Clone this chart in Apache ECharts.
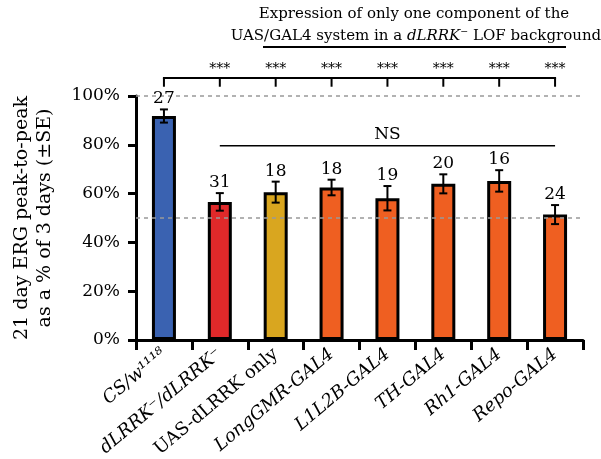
<!DOCTYPE html>
<html>
<head>
<meta charset="utf-8">
<script src="https://cdn.jsdelivr.net/npm/echarts@6/dist/echarts.min.js"></script>
<style>
  html, body { margin: 0; padding: 0; background: #fff; }
  #chart { width: 601px; height: 459px; }
</style>
</head>
<body>
<div id="chart"></div>
<script>
// Genotypes along the x axis
var categories = ['CS/w¹¹¹⁸', 'dLRRK⁻/dLRRK⁻', 'UAS-dLRRK only', 'LongGMR-GAL4', 'L1L2B-GAL4', 'TH-GAL4', 'Rh1-GAL4', 'Repo-GAL4'];
// 21-day ERG peak-to-peak as % of 3-day value
var means = [91.8, 56.6, 60.6, 62.5, 58.1, 64.0, 65.2, 51.4];
// standard error
var errors = [2.7, 3.6, 4.3, 3.2, 5.0, 3.9, 4.4, 3.9];
// number of flies per genotype
var counts = [27, 31, 18, 18, 19, 20, 16, 24];
var barColors = ['#3a62b1', '#e0292a', '#d9a61f', '#ef5f21', '#ef5f21', '#ef5f21', '#ef5f21', '#ef5f21'];
var yTicks = [0, 20, 40, 60, 80, 100];
var refLines = [100, 50];

var FONT = 'DejaVu Serif';

var chart = echarts.init(document.getElementById('chart'), null, { renderer: 'canvas' });

var barData = means.map(function (v, i) {
  return { value: v, itemStyle: { color: barColors[i] } };
});
var errData = means.map(function (v, i) { return [i, v, errors[i], counts[i]]; });

function renderError(params, api) {
  var x = api.value(0), m = api.value(1), e = api.value(2);
  var top = api.coord([x, m + e]);
  var bot = api.coord([x, m - e]);
  var half = 4;
  var st = { stroke: '#000', lineWidth: 2 };
  return {
    type: 'group',
    children: [
      { type: 'line', shape: { x1: top[0], y1: top[1], x2: bot[0], y2: bot[1] }, style: st },
      { type: 'line', shape: { x1: top[0] - half, y1: top[1], x2: top[0] + half, y2: top[1] }, style: st },
      { type: 'line', shape: { x1: bot[0] - half, y1: bot[1], x2: bot[0] + half, y2: bot[1] }, style: st },
      { type: 'text', x: top[0], y: top[1] - 2,
        style: { text: String(api.value(3)), font: '17px "' + FONT + '"', fill: '#000', align: 'center', verticalAlign: 'bottom' } }
    ]
  };
}

// significance bracket against the control plus the NS bar over the test group
var sigLevel = 107.4, sigDrop = 103.8, nsLevel = 79.6;
function renderBrackets(params, api) {
  var st = { stroke: '#000', lineWidth: 2 };
  var kids = [];
  var a = api.coord([0, sigLevel]), b = api.coord([categories.length - 1, sigLevel]);
  kids.push({ type: 'line', shape: { x1: a[0] - 1, y1: a[1], x2: b[0] + 1, y2: b[1] }, style: st });
  for (var i = 0; i < categories.length; i++) {
    var p = api.coord([i, sigLevel]), q = api.coord([i, sigDrop]);
    kids.push({ type: 'line', shape: { x1: p[0], y1: p[1], x2: q[0], y2: q[1] }, style: st });
    if (i > 0) {
      kids.push({ type: 'text', x: p[0], y: p[1] - 2,
        style: { text: '***', font: '14px "' + FONT + '"', fill: '#000', align: 'center', verticalAlign: 'bottom' } });
    }
  }
  var n1 = api.coord([1, nsLevel]), n2 = api.coord([categories.length - 1, nsLevel]);
  kids.push({ type: 'line', shape: { x1: n1[0], y1: n1[1], x2: n2[0], y2: n2[1] }, style: { stroke: '#000', lineWidth: 1.5 } });
  kids.push({ type: 'text', x: (n1[0] + n2[0]) / 2, y: n1[1] - 3,
    style: { text: 'NS', font: '17px "' + FONT + '"', fill: '#000', align: 'center', verticalAlign: 'bottom' } });
  return { type: 'group', children: kids };
}

var option = {
  animation: false,
  backgroundColor: '#fff',
  textStyle: { fontFamily: FONT },
  grid: { left: 136, right: 18, top: 96, bottom: 119, containLabel: false, outerBoundsMode: 'none' },
  graphic: [
    { type: 'text', x: 414, y: 14,
      style: { text: 'Expression of only one component of the', font: '15px "' + FONT + '"', fill: '#000', align: 'center', verticalAlign: 'middle' } },
    { type: 'text', x: 416, y: 36,
      style: {
        text: '{n|UAS/GAL4 system in a }{i|dLRRK}{s|⁻}{n| LOF background}',
        align: 'center', verticalAlign: 'middle',
        rich: {
          n: { font: '15px "' + FONT + '"', fill: '#000' },
          i: { font: 'italic 15px "' + FONT + '"', fill: '#000' },
          s: { font: 'italic 15px "' + FONT + '"', fill: '#000' }
        }
      } },
    { type: 'line', shape: { x1: 263, y1: 47, x2: 566, y2: 47 }, style: { stroke: '#000', lineWidth: 2 } }
  ],
  xAxis: {
    type: 'category',
    data: categories,
    axisLine: { lineStyle: { color: '#000', width: 3 } },
    axisTick: { show: true, alignWithLabel: false, length: 10, lineStyle: { color: '#000', width: 3 } },
    axisLabel: {
      interval: 0, rotate: 40, margin: 12,
      fontFamily: FONT, fontStyle: 'italic', fontSize: 18, color: '#000',
      formatter: function (v) { return v === 'UAS-dLRRK only' ? '{r|' + v + '}' : v; },
      rich: { r: { fontFamily: FONT, fontStyle: 'normal', fontSize: 18, color: '#000' } }
    }
  },
  yAxis: {
    type: 'value', min: yTicks[0], max: yTicks[yTicks.length - 1], interval: 20,
    name: '21 day ERG peak-to-peak\nas a % of 3 days (±SE)',
    nameLocation: 'middle', nameRotate: 90, nameGap: 79,
    nameTextStyle: { fontFamily: FONT, fontSize: 19, color: '#000', lineHeight: 23, align: 'center' },
    axisLine: { show: true, lineStyle: { color: '#000', width: 3 } },
    axisTick: { show: true, length: 8, lineStyle: { color: '#000', width: 3 } },
    axisLabel: { margin: 16, fontFamily: FONT, fontSize: 17, color: '#000', formatter: '{value}%' },
    splitLine: { show: false }
  },
  series: [
    {
      type: 'bar', data: barData, barWidth: 24,
      itemStyle: { borderColor: '#000', borderWidth: 3 },
      markLine: {
        silent: true, symbol: 'none', label: { show: false },
        lineStyle: { color: '#999', type: [4, 4], width: 1.5 },
        data: refLines.map(function (v) { return { yAxis: v }; })
      },
      z: 2
    },
    { type: 'custom', data: errData, renderItem: renderError, z: 5 },
    { type: 'custom', data: [[0, 0]], renderItem: renderBrackets, clip: false, z: 5 }
  ]
};
chart.setOption(option);
</script>
</body>
</html>
